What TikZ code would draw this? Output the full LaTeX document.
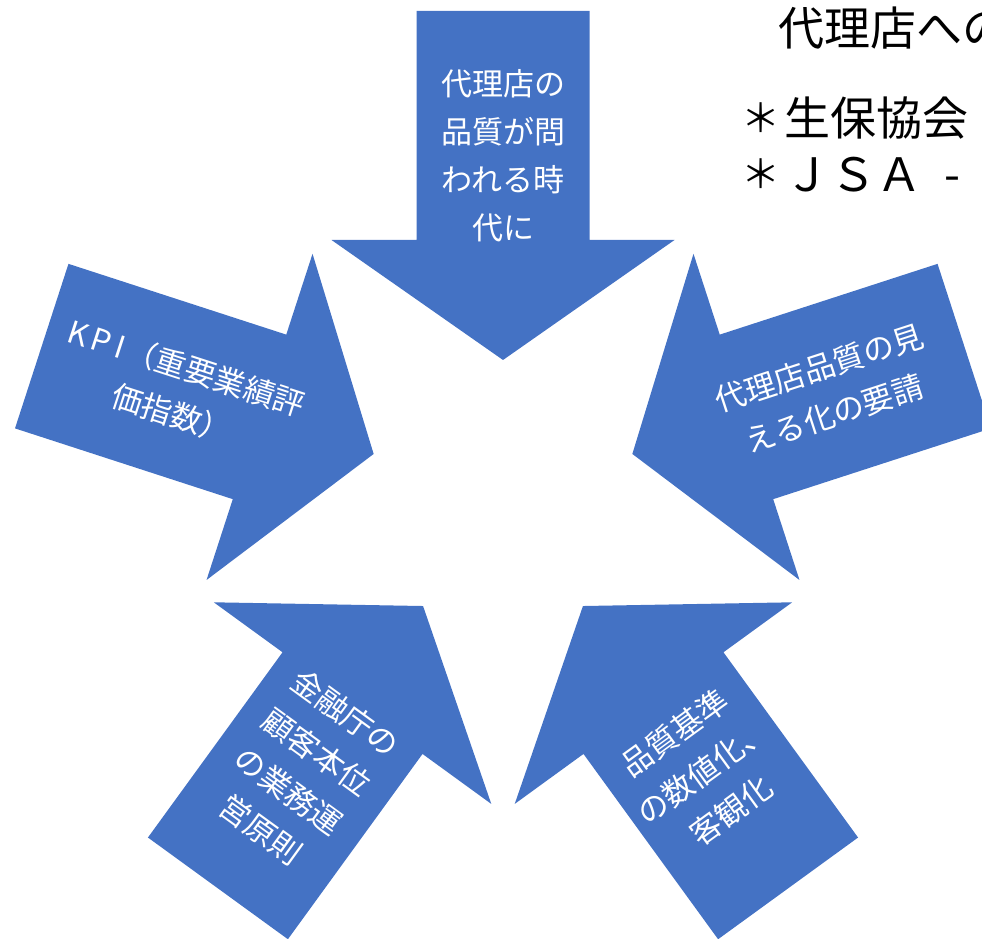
\documentclass[tikz,border=0pt]{standalone}
\usepackage{fontspec}
\usepackage{graphicx}
\newfontfamily\jp{Noto Sans CJK JP}
\usetikzlibrary{calc}
\definecolor{arrowblue}{HTML}{4472C4}
\newcommand{\smallast}{\makebox[46pt]{\raisebox{3pt}{\scalebox{0.85}{＊}}}}
\begin{document}
\begin{tikzpicture}[x=1pt,y=1pt,
  bigarrow/.style={fill=arrowblue, draw=none},
  arrowtext/.style={text=white, font=\jp\fontsize{31}{48}\selectfont, align=center, inner sep=0pt},
  notetext/.style={text=black, font=\jp\fontsize{46}{57}\selectfont, anchor=base west, inner sep=0pt}]
\useasboundingbox (0,0) rectangle (982,938);
\clip (0,0) rectangle (982,938);
\coordinate (O) at (503,442);
% five converging block arrows
\foreach \r in {0,72,-72,144,-144}{
  \fill[bigarrow, shift={(O)}, rotate=\r]
    (0,136) -- (171.5,256) -- (86.5,256) -- (86.5,485) -- (-86.5,485)
    -- (-86.5,256) -- (-171.5,256) -- cycle;
}
% arrow texts
\node[arrowtext] (ttop) at ($(O)+(90:340.5)$) {代理店の\\品質が問\\われる時\\代に};
\node[arrowtext, rotate=-18] (tleft) at ($(O)+(162:340.5)$)
  {K\hspace{4pt}P\hspace{6pt}I\hspace{2pt}（重要業績評\\価指数）};
\node[arrowtext, rotate=18] (tright) at ($(O)+(18:340.5)$) {代理店品質の見\\える化の要請};
\node[arrowtext, rotate=-36] (tbl) at ($(O)+(234:340.5)$) {金融庁の\\顧客本位\\の業務運\\営原則};
\node[arrowtext, rotate=36] (tbr) at ($(O)+(306:340.5)$) {品質基準\\の数値化、\\客観化};
% notes at top right (cut by the picture edge)
\node[notetext] (n1) at (778,892) {代理店への};
\node[notetext] (n2) at (738,802.5) {\smallast 生保協会};
\node[notetext] (n3) at (738,746) {\smallast ＪＳＡ\hspace{22pt}-};
\end{tikzpicture}
\end{document}
